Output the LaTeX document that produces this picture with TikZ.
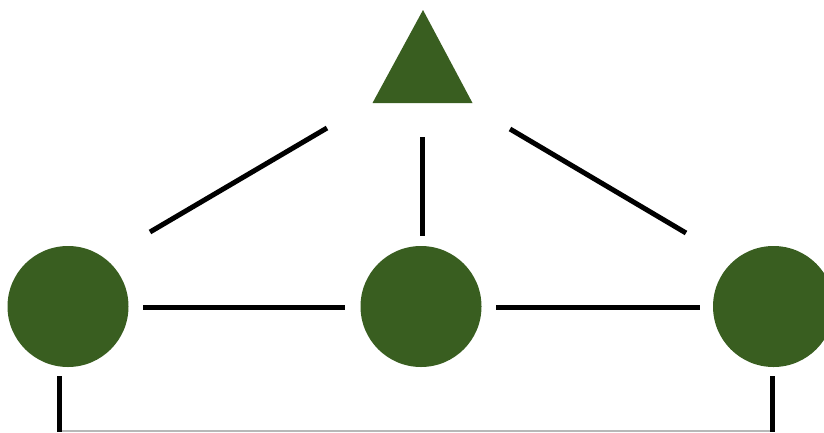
\documentclass[tikz,border=0pt]{standalone}
\usetikzlibrary{shapes.geometric}
\definecolor{leaf}{RGB}{57,94,32}
\tikzset{
  dot/.style={circle, fill=leaf, draw=none, minimum size=121pt, inner sep=0pt},
  edge/.style={line width=5pt, black},
  thin/.style={line width=1.2pt, black!28}
}
\begin{document}
\begin{tikzpicture}[x=1pt,y=-1pt]
\useasboundingbox (0,0) rectangle (824,432);
\clip (0,0) rectangle (824,432);
% nodes
\fill[leaf] (423,10) -- (472.5,103) -- (372.5,103) -- cycle;
\coordinate (top) at (422.5,70);
\node[dot] (L) at (68,306.5) {};
\node[dot] (M) at (421,306.5) {};
\node[dot] (R) at (773.5,306.5) {};
% connector ends
\coordinate (a1) at (150,232);
\coordinate (a2) at (327,128);
\coordinate (b1) at (422,137);
\coordinate (b2) at (422,236);
\coordinate (c1) at (510,129);
\coordinate (c2) at (686,233);
\coordinate (d1) at (143,307);
\coordinate (d2) at (345,307);
\coordinate (e1) at (496,307);
\coordinate (e2) at (700,307);
\coordinate (f1) at (59.5,376);
\coordinate (f2) at (59.5,432);
\coordinate (g1) at (772.5,376);
\coordinate (g2) at (772.5,432);
\coordinate (h1) at (59.5,431);
\coordinate (h2) at (772.5,431);
% connectors
\draw[thin] (h1) -- (h2);
\draw[edge] (a1) -- (a2);
\draw[edge] (b1) -- (b2);
\draw[edge] (c1) -- (c2);
\draw[edge] (d1) -- (d2);
\draw[edge] (e1) -- (e2);
\draw[edge] (f1) -- (f2);
\draw[edge] (g1) -- (g2);
\end{tikzpicture}
\end{document}
